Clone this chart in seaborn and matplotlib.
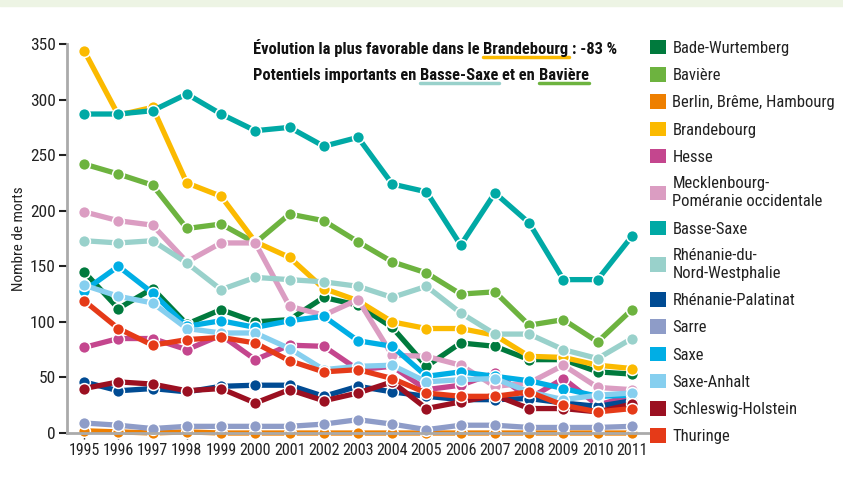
import matplotlib
matplotlib.use("Agg")
import matplotlib.pyplot as plt
from matplotlib.patches import Patch, Rectangle
from matplotlib.lines import Line2D
import pandas as pd
import seaborn as sns

W, H = 843, 479
FONT = ["Roboto Condensed", "Liberation Sans Narrow", "Roboto", "DejaVu Sans"]

years = list(range(1995, 2012))

bade_wurtemberg = [145, 112, 130, 98, 111, 100, 102, 122, 115, 95, 60, 81, 78, 66, 66, 55, 53]
baviere = [242, 233, 223, 184, 188, 171, 197, 191, 172, 154, 144, 125, 127, 97, 102, 82, 111]
berlin_breme_hambourg = [2, 1, 0, 1, 0, 0, 0, 0, 0, 0, 0, 0, 0, 0, 0, 0, 0]
brandebourg = [344, 286, 293, 225, 213, 172, 158, 130, 119, 100, 94, 94, 88, 69, 68, 61, 58]
hesse = [77, 85, 85, 75, 88, 66, 79, 78, 57, 60, 39, 43, 54, 31, 49, 25, 34]
mecklenbourg = [199, 191, 187, 154, 171, 171, 114, 106, 120, 70, 69, 61, 42, 45, 61, 41, 39]
basse_saxe = [287, 287, 290, 305, 287, 272, 275, 258, 266, 224, 217, 169, 216, 189, 138, 138, 177]
rhenanie_nw = [173, 171, 173, 153, 129, 140, 138, 136, 132, 122, 132, 108, 89, 89, 75, 67, 85]
rhenanie_palatinat = [46, 38, 40, 37, 42, 43, 43, 33, 42, 37, 33, 30, 30, 31, 27, 24, 29]
sarre = [9, 7, 4, 6, 6, 6, 6, 8, 12, 8, 3, 7, 7, 5, 5, 5, 6]
saxe = [128, 150, 126, 96, 101, 95, 101, 105, 83, 78, 51, 55, 51, 47, 40, 33, 34]
saxe_anhalt = [133, 123, 117, 94, 90, 90, 76, 57, 60, 61, 46, 48, 49, 37, 30, 34, 36]
schleswig_holstein = [40, 46, 44, 38, 40, 27, 39, 29, 36, 46, 22, 28, 34, 22, 22, 19, 26]
thuringe = [119, 94, 79, 84, 86, 81, 65, 55, 57, 49, 36, 33, 33, 37, 25, 19, 22]

regions = [
    "Bade-Wurtemberg", "Bavière", "Berlin, Brême, Hambourg", "Brandebourg", "Hesse",
    "Mecklenbourg-\nPoméranie occidentale", "Basse-Saxe", "Rhénanie-du-\nNord-Westphalie",
    "Rhénanie-Palatinat", "Sarre", "Saxe", "Saxe-Anhalt", "Schleswig-Holstein", "Thuringe",
]
series = [
    bade_wurtemberg, baviere, berlin_breme_hambourg, brandebourg, hesse, mecklenbourg,
    basse_saxe, rhenanie_nw, rhenanie_palatinat, sarre, saxe, saxe_anhalt,
    schleswig_holstein, thuringe,
]
colors = [
    "#007A3D", "#6DB33F", "#EE7F00", "#FBBA00", "#C4468E", "#DB9DC2", "#00A9A5",
    "#99D1CB", "#004B93", "#8E9CC8", "#00AEE5", "#86CFEF", "#9B1021", "#E53A18",
]
palette = dict(zip(regions, colors))

df = pd.DataFrame(
    [(r, y, v) for r, vals in zip(regions, series) for y, v in zip(years, vals)],
    columns=["region", "year", "morts"],
)

sns.set_theme(style="white")
plt.rcParams["font.family"] = FONT

fig = plt.figure(figsize=(W / 100, H / 100), dpi=100)
fig.patches.append(Rectangle((0, 1 - 6 / H), 1, 6 / H, transform=fig.transFigure,
                             color="#EDF4E4", zorder=0))

ax = fig.add_axes([67 / W, 1 - 433 / H, (649 - 67) / W, (433 - 44) / H])
sns.lineplot(data=df, x="year", y="morts", hue="region", hue_order=regions,
             palette=palette, marker="o", markersize=8.5, markeredgecolor="white",
             markeredgewidth=1.1, linewidth=3.8, legend=False, ax=ax, clip_on=False)

ax.set_xlim(1994.5, 2011.5)
ax.set_ylim(0, 350)
ax.set_xticks(years)
ax.set_xticklabels([str(y) for y in years], fontsize=11.5, color="#222222")
ax.set_yticks(range(0, 351, 50))
ax.tick_params(axis="y", labelsize=12.5, colors="#222222", length=6, width=1.5,
               direction="out", left=True, pad=2)
ax.tick_params(axis="x", length=4, width=1, direction="out", bottom=True, pad=3)
for t in ax.get_yticklines() + ax.get_xticklines():
    t.set_color("#AAAAAA")
for side in ["top", "right"]:
    ax.spines[side].set_visible(False)
for side in ["left", "bottom"]:
    ax.spines[side].set_color("#AAAAAA")
    ax.spines[side].set_linewidth(2)
ax.set_xlabel("")
ax.set_ylabel("Nombre de morts", fontsize=11, color="#222222", labelpad=3)

handles = [Patch(facecolor=c, edgecolor="none") for c in colors]
leg = fig.legend(handles, regions, loc="upper left", bbox_to_anchor=(650 / W, 1 - 40 / H),
                 frameon=False, fontsize=12, handlelength=0.95, handleheight=0.95,
                 handletextpad=0.4, labelspacing=0.68, borderaxespad=0, borderpad=0)
for t in leg.get_texts():
    t.set_color("#222222")
    t.set_linespacing(1.25)

# title with coloured underlines
renderer = fig.canvas.get_renderer()
tsize = 11.9


def width_px(s):
    t = fig.text(0, 0, s, fontsize=tsize, fontweight="bold")
    w = t.get_window_extent(renderer).width
    t.remove()
    return w


space = width_px("a a") - width_px("aa")


def title_line(x, y, parts):
    for text, ucolor in parts:
        t = fig.text(x / W, 1 - y / H, text, fontsize=tsize, fontweight="bold",
                     color="#111111", va="baseline")
        bb = t.get_window_extent(renderer)
        if ucolor:
            yy = 1 - (y + 3) / H
            fig.add_artist(Line2D([bb.x0 / W, bb.x1 / W], [yy, yy], color=ucolor,
                                  linewidth=2.5, transform=fig.transFigure))
        x = bb.x1 + space


title_line(253, 54, [("Évolution la plus favorable dans le", None),
                     ("Brandebourg", "#FBBA00"), (": -83 %", None)])
title_line(253, 80, [("Potentiels importants en", None), ("Basse-Saxe", "#99D1CB"),
                     ("et en", None), ("Bavière", "#6DB33F")])

fig.savefig("out.png", dpi=100)
